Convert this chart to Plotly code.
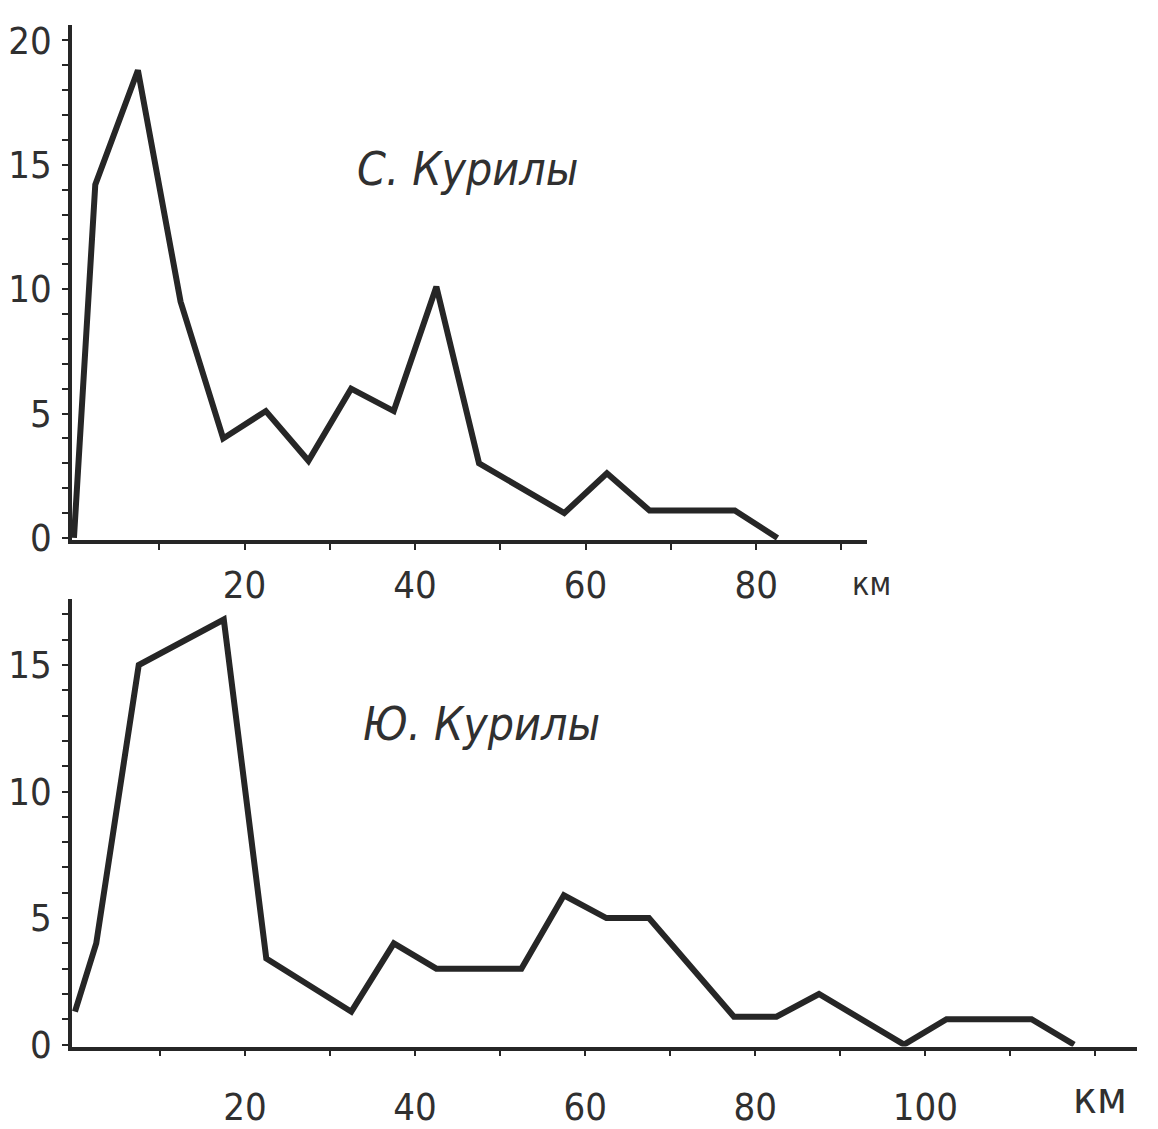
import plotly.graph_objects as go

# ---- data ----
north_km = [0, 2.5, 7.5, 12.5, 17.5, 22.5, 27.5, 32.5, 37.5, 42.5, 47.5, 57.5, 62.5, 67.5, 77.5, 82.5]
north_vals = [0, 14.2, 18.8, 9.5, 4.0, 5.1, 3.1, 6.0, 5.1, 10.1, 3.0, 1.0, 2.6, 1.1, 1.1, 0]

south_km = [0, 2.5, 7.5, 17.5, 22.5, 32.5, 37.5, 42.5, 52.5, 57.5, 62.5, 67.5, 77.5, 82.5, 87.5, 97.5, 102.5, 112.5, 117.5]
south_vals = [1.3, 4.0, 15.0, 16.8, 3.4, 1.3, 4.0, 3.0, 3.0, 5.9, 5.0, 5.0, 1.1, 1.1, 2.0, 0, 1.0, 1.0, 0]

north_title = "С. Курилы"
south_title = "Ю. Курилы"
unit_label = "км"

north_y_ticks = list(range(0, 21))
north_y_labels = [str(v) if v % 5 == 0 else "" for v in north_y_ticks]
north_x_ticks = list(range(10, 100, 10))
north_x_labels = [str(v) if v in (20, 40, 60, 80) else "" for v in north_x_ticks]

south_y_ticks = list(range(0, 18))
south_y_labels = [str(v) if v % 5 == 0 else "" for v in south_y_ticks]
south_x_ticks = list(range(10, 130, 10))
south_x_labels = [str(v) if v in (20, 40, 60, 80, 100) else "" for v in south_x_ticks]

# ---- styling ----
W, H = 1158, 1129
INK = "#262626"
TXT = "#303030"
FONT = "DejaVu Sans Condensed, Liberation Sans Narrow, Arial Narrow, sans-serif"

def px_x(p):
    return p / W

def px_y(p):
    return (H - p) / H

fig = go.Figure()
fig.add_trace(go.Scatter(x=north_km, y=north_vals, mode="lines",
                         line=dict(color=INK, width=6, shape="linear"),
                         xaxis="x", yaxis="y", showlegend=False, hoverinfo="skip"))
fig.add_trace(go.Scatter(x=south_km, y=south_vals, mode="lines",
                         line=dict(color=INK, width=6, shape="linear"),
                         xaxis="x2", yaxis="y2", showlegend=False, hoverinfo="skip"))

axis_common = dict(showline=True, linecolor=INK, linewidth=3.5, showgrid=False, zeroline=False,
                   ticks="outside", ticklen=6, tickwidth=2, tickcolor=INK,
                   tickfont=dict(family=FONT, size=38, color=TXT), fixedrange=True)

fig.update_layout(
    width=W, height=H,
    margin=dict(l=0, r=0, t=0, b=0),
    paper_bgcolor="white", plot_bgcolor="white",
    xaxis=dict(domain=[px_x(72), px_x(867)], range=[-0.23, 93], anchor="y",
               tickmode="array", tickvals=north_x_ticks, ticktext=north_x_labels,
               ticklabelstandoff=3, **axis_common),
    yaxis=dict(domain=[px_y(549), px_y(20)], range=[-0.08, 20.6], anchor="x",
               tickmode="array", tickvals=north_y_ticks, ticktext=north_y_labels,
               ticklabelstandoff=3, **axis_common),
    xaxis2=dict(domain=[px_x(72), px_x(1137)], range=[-0.35, 124.9], anchor="y2",
                tickmode="array", tickvals=south_x_ticks, ticktext=south_x_labels,
                ticklabelstandoff=18, **axis_common),
    yaxis2=dict(domain=[px_y(1070), px_y(610)], range=[-0.08, 17.6], anchor="x2",
                tickmode="array", tickvals=south_y_ticks, ticktext=south_y_labels,
                ticklabelstandoff=3, **axis_common),
    annotations=[
        dict(text="<i>" + north_title + "</i>", x=px_x(467), y=px_y(168), xref="paper", yref="paper",
             showarrow=False, font=dict(family=FONT, size=46, color=TXT), xanchor="center", yanchor="middle"),
        dict(text="<i>" + south_title + "</i>", x=px_x(481), y=px_y(738), xref="paper", yref="paper",
             showarrow=False, font=dict(family=FONT, size=46, color=TXT), xanchor="center", yanchor="middle"),
        dict(text=unit_label, x=px_x(871), y=px_y(594), xref="paper", yref="paper",
             showarrow=False, font=dict(family=FONT, size=32, color=TXT), xanchor="center", yanchor="middle"),
        dict(text=unit_label, x=px_x(1100), y=px_y(1106), xref="paper", yref="paper",
             showarrow=False, font=dict(family=FONT, size=44, color=TXT), xanchor="center", yanchor="middle",
             yshift=-16),
    ],
)

fig.write_html("out.html", post_script="document.body.style.margin='0';",
               config={"displayModeBar": False})
